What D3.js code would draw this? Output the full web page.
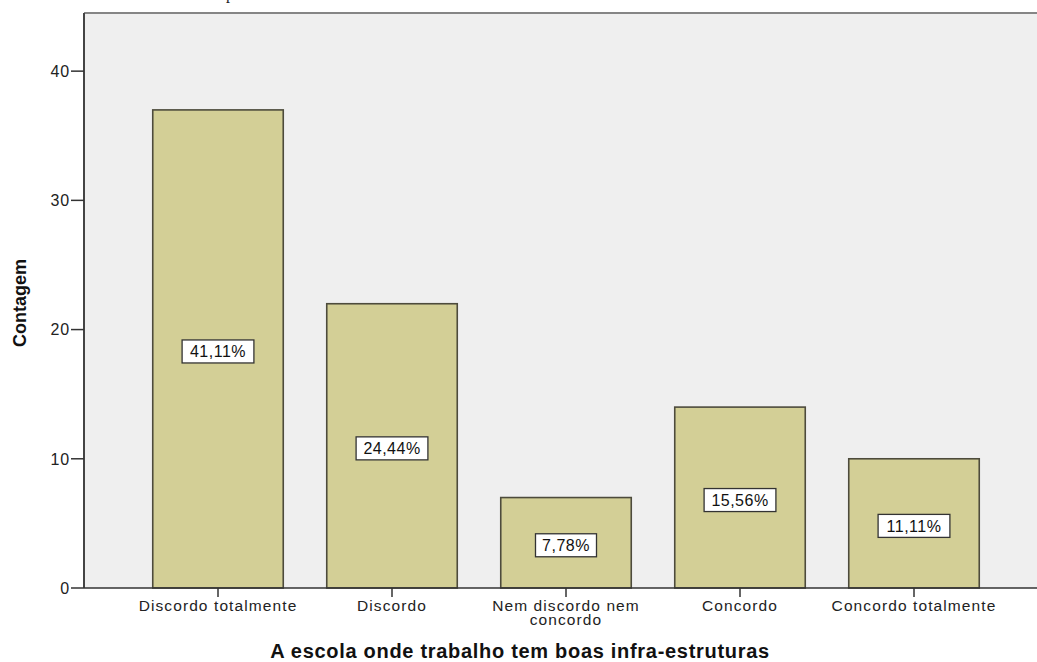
<!DOCTYPE html>
<html><head><meta charset="utf-8">
<script src="https://cdn.jsdelivr.net/npm/d3@7"></script>
<style>
body{margin:0;background:#fff;}
svg{display:block;}
</style></head>
<body>
<svg id="chart" width="1037" height="662"></svg>
<script>
const categories = [["Discordo totalmente"], ["Discordo"], ["Nem discordo nem", "concordo"], ["Concordo"], ["Concordo totalmente"]];
const counts = [37, 22, 7, 14, 10];
const percentLabels = ["41,11%", "24,44%", "7,78%", "15,56%", "11,11%"];
const yTicks = [0, 10, 20, 30, 40];
const yTitle = "Contagem";
const xTitle = "A escola onde trabalho tem boas infra-estruturas";

const svg = d3.select("#chart");
const plot = {left: 84, top: 13, right: 1045, bottom: 588};

const x = d3.scaleBand().domain(d3.range(categories.length))
  .range([131, 1001]).paddingInner(0.25).paddingOuter(0.125);
const y = d3.scaleLinear().domain([0, 44.5]).range([plot.bottom, plot.top]);

// background
svg.append("rect").attr("x", plot.left).attr("y", plot.top)
  .attr("width", plot.right - plot.left).attr("height", plot.bottom - plot.top)
  .attr("fill", "#efefef");
// top border
svg.append("line").attr("x1", plot.left).attr("x2", plot.right)
  .attr("y1", plot.top).attr("y2", plot.top)
  .attr("stroke", "#858585").attr("stroke-width", 2);

// cut-off caption fragment
svg.append("text").attr("x", 226).attr("y", -1)
  .attr("font-family", "Liberation Serif").attr("font-size", 16).attr("fill", "#222").text("p");

// bars
svg.selectAll("rect.bar").data(counts).join("rect").attr("class", "bar")
  .attr("x", (d, i) => x(i)).attr("width", x.bandwidth())
  .attr("y", d => y(d)).attr("height", d => y(0) - y(d))
  .attr("fill", "#d3cf96").attr("stroke", "#4d4b3c").attr("stroke-width", 1.6);

// percentage labels
const lab = svg.selectAll("g.lab").data(counts).join("g").attr("class", "lab")
  .attr("transform", (d, i) => `translate(${x(i) + x.bandwidth() / 2},${(y(d) + y(0)) / 2 + 2.5})`);
lab.append("rect").attr("x", (d, i) => -(percentLabels[i].length * 10.8 + 7) / 2)
  .attr("y", -11.5).attr("height", 23)
  .attr("width", (d, i) => percentLabels[i].length * 10.8 + 7)
  .attr("fill", "#fff").attr("stroke", "#333").attr("stroke-width", 1.3);
lab.append("text").attr("text-anchor", "middle").attr("dy", "0.36em")
  .attr("font-family", "Liberation Sans, Arial").attr("font-size", 16)
  .attr("letter-spacing", 0.5).attr("fill", "#111")
  .text((d, i) => percentLabels[i]);

// y axis
const ya = svg.append("g");
ya.append("line").attr("x1", plot.left).attr("x2", plot.left)
  .attr("y1", plot.top).attr("y2", plot.bottom).attr("stroke", "#444").attr("stroke-width", 2);
const yt = ya.selectAll("g.t").data(yTicks).join("g").attr("class", "t")
  .attr("transform", d => `translate(0,${y(d)})`);
yt.append("line").attr("x1", 71).attr("x2", plot.left).attr("stroke", "#333").attr("stroke-width", 1.5);
yt.append("text").attr("x", 70).attr("dy", "0.36em").attr("text-anchor", "end")
  .attr("font-family", "Liberation Sans, Arial").attr("font-size", 16)
  .attr("letter-spacing", 0.8).attr("fill", "#222").text(d => d);

// x axis
svg.append("line").attr("x1", plot.left).attr("x2", plot.right)
  .attr("y1", plot.bottom).attr("y2", plot.bottom).attr("stroke", "#333").attr("stroke-width", 1.6);
const xt = svg.selectAll("g.xt").data(categories).join("g").attr("class", "xt")
  .attr("transform", (d, i) => `translate(${x(i) + x.bandwidth() / 2},${plot.bottom})`);
xt.append("line").attr("y1", 0).attr("y2", 9).attr("stroke", "#333").attr("stroke-width", 1.5);
xt.each(function(d) {
  const t = d3.select(this).append("text").attr("text-anchor", "middle")
    .attr("font-family", "Liberation Sans, Arial").attr("font-size", 15.5)
    .attr("letter-spacing", 1.1).attr("fill", "#222");
  d.forEach((line, k) => t.append("tspan").attr("x", 0).attr("y", 23 + k * 13.5).text(line));
});

// titles
svg.append("text").attr("transform", "translate(26,303) rotate(-90)")
  .attr("text-anchor", "middle").attr("font-family", "Liberation Sans, Arial")
  .attr("font-weight", "bold").attr("font-size", 18).attr("fill", "#111").text(yTitle);
svg.append("text").attr("x", 520).attr("y", 658).attr("text-anchor", "middle")
  .attr("font-family", "Liberation Sans, Arial").attr("font-weight", "bold")
  .attr("font-size", 20).attr("letter-spacing", 0.7).attr("fill", "#111").text(xTitle);
</script>
</body></html>
